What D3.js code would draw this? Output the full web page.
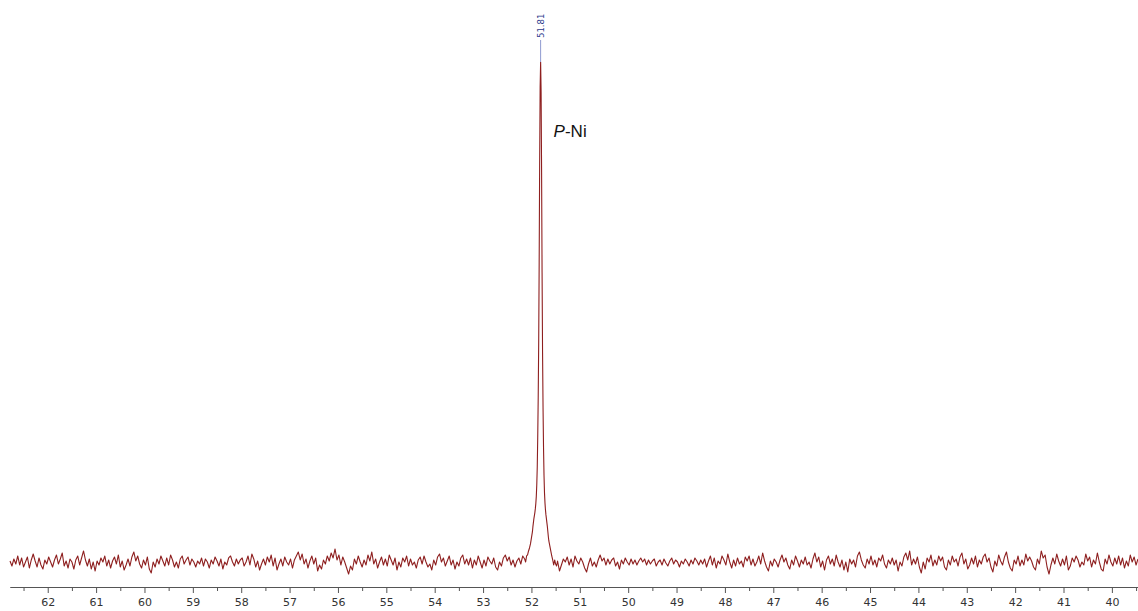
<!DOCTYPE html>
<html><head><meta charset="utf-8">
<script src="https://cdn.jsdelivr.net/npm/d3@7"></script>
<style>html,body{margin:0;background:#fff;overflow:hidden}</style>
</head><body><svg id="chart" width="1138" height="611"></svg>
<script>
// 31P NMR spectrum: baseline noise on a regular ppm grid, plus the resonance profile
const noiseStart = 62.78;
const noiseStep = 0.04;
const baselineNoise = [
  4,-6,8,-2,14,-4,10,-8,2,12,-10,6,18,4,-8,10,-4,-12,6,-2,12,2,-8,6,
  16,-2,8,20,-6,4,-10,8,2,-12,6,14,-4,10,24,6,-6,8,-12,2,-16,4,-4,10,
  2,14,-6,6,-10,4,12,-2,16,-8,4,-14,-4,8,-6,12,22,4,14,-2,-10,6,-4,12,
  -12,-20,2,-8,8,-2,14,4,-6,10,-4,16,6,-8,2,-10,8,14,-2,6,12,-4,8,2,
  -8,4,-2,10,-6,8,2,-10,6,-2,12,4,-6,8,-12,2,-4,10,14,2,-6,8,-2,6,
  10,-6,2,14,-4,18,8,-8,4,-14,-2,8,-4,12,2,16,-6,10,-14,-2,8,-6,12,2,
  -4,8,-10,6,14,22,6,18,-2,8,-10,4,14,-2,10,-16,-4,-12,6,-2,14,4,20,10,
  28,6,16,-4,12,2,-10,-22,-6,-14,8,-2,14,2,-8,6,-4,16,4,22,-2,8,-10,2,
  12,-4,8,-6,16,6,-4,10,-14,2,-8,10,2,14,-6,8,-4,2,-10,6,12,-2,14,2,
  -8,-2,-14,6,-4,12,18,2,10,-6,4,14,-4,6,-12,2,-6,10,16,-2,8,-4,10,-10,
  6,-4,14,2,-10,6,-6,12,4,-2,10,-8,-14,2,-6,10,16,4,12,-4,6,-8,4,10,
  -2,14,6,-10,2,-4,8,-2,16,24,6,14,-6,2,-10,8,-2,12,-6,4,-16,-4,8,2,
  12,-4,8,-8,14,4,-2,10,2,-10,-18,-2,10,-6,2,-8,6,16,4,10,-4,8,-2,6,
  10,-6,2,-12,6,-2,10,2,-4,8,-2,6,-4,4,10,2,8,-4,6,-2,4,8,-6,2,
  6,-4,8,0,-6,4,10,-2,6,2,-8,4,-2,8,2,-6,6,-2,10,4,-4,6,-2,8,
  -8,4,14,-4,10,-10,4,-2,14,6,-4,18,2,-10,6,-6,10,-2,4,-8,12,4,14,-4,
  8,-6,2,14,-2,20,4,-8,-16,4,-6,8,2,-8,6,16,2,10,-4,-12,6,-4,14,4,
  -8,6,-2,12,-4,2,-10,8,20,2,12,-8,4,-14,6,14,-2,8,-6,16,2,-8,6,-14,
  2,-18,8,-2,6,-8,14,22,6,-4,-10,8,-2,14,-4,6,-8,10,4,16,-2,-10,6,-2,
  10,-4,6,-16,2,-6,12,20,6,24,-4,8,-2,12,-8,-20,2,-12,10,2,16,-6,6,-4,
  14,4,12,-8,-14,6,-4,14,2,8,-6,12,20,-2,8,-12,-4,10,-2,14,-8,6,-2,12,
  18,2,10,-8,-18,4,-6,16,4,-4,12,22,2,-10,-16,6,-2,14,-6,6,-4,18,4,12,
  4,-8,-14,8,-2,24,10,16,-8,-22,-4,10,-2,18,4,-6,8,-4,14,-14,-6,10,2,14,
  6,-8,2,-4,18,4,12,-8,6,-2,20,2,-12,-16,8,-2,16,2,-6,10,-2,14,-4,10,
  -10,4,-6,16,2,12,-4,8
];

// resonance at 51.81 ppm
const peakPpm = [52.14,52.12,52.10,52.08,52.06,52.04,52.02,52.00,51.98,51.97,51.96,51.95,51.94,51.93,51.92,51.91,51.90,51.89,51.88,51.87,51.86,51.85,51.84,51.83,51.82,51.81,51.80,51.79,51.78,51.77,51.76,51.75,51.74,51.73,51.72,51.71,51.70,51.69,51.68,51.67,51.66,51.65,51.64,51.62,51.60,51.58,51.56,51.54,51.52,51.50,51.48];
const peakIntensity = [8,2,14,16,24,30,38,50,62,72,80,88,94,100,108,118,132,155,190,250,330,440,600,800,950,1000,940,780,580,420,310,230,175,140,120,106,96,88,80,72,62,52,44,34,24,14,6,-4,6,-2,-6];

const majorTicks = [62,61,60,59,58,57,56,55,54,53,52,51,50,49,48,47,46,45,44,43,42,41,40];
const minorTicks = [62.5,61.5,60.5,59.5,58.5,57.5,56.5,55.5,54.5,53.5,52.5,51.5,50.5,49.5,48.5,47.5,46.5,45.5,44.5,43.5,42.5,41.5,40.5,39.5];
const peakLabelPpm = [51.81];
const peakLabelText = ["51.81"];
const compoundItalic = "P";
const compoundRest = "-Ni";

const svg = d3.select("#chart");
const x = d3.scaleLinear().domain([62.78, 39.46]).range([10, 1138]);
const y = d3.scaleLinear().domain([0, 1000]).range([563, 62]);

// assemble the trace, ordered from high to low ppm
const peakLo = d3.min(peakPpm), peakHi = d3.max(peakPpm);
const trace = [];
baselineNoise.forEach((v, i) => {
  const ppm = noiseStart - i * noiseStep;
  if (ppm > peakHi || ppm < peakLo) trace.push([ppm, v]);
});
peakPpm.forEach((p, i) => trace.push([p, peakIntensity[i]]));
trace.sort((a, b) => b[0] - a[0]);

const line = d3.line().x(d => x(d[0])).y(d => y(d[1]));
svg.append("path").datum(trace)
  .attr("d", line)
  .attr("fill", "none")
  .attr("stroke", "#8e1f1f")
  .attr("stroke-width", 1.1)
  .attr("stroke-linejoin", "round");

// ppm axis
const axisY = 587;
const gMinor = svg.append("g").attr("transform", `translate(0,${axisY})`)
  .call(d3.axisBottom(x).tickValues(minorTicks).tickSize(4).tickSizeOuter(0).tickFormat(""));
const gMajor = svg.append("g").attr("transform", `translate(0,${axisY})`)
  .call(d3.axisBottom(x).tickValues(majorTicks).tickSize(6).tickSizeOuter(0).tickPadding(5).tickFormat(d3.format("d")));
[gMinor, gMajor].forEach(g => {
  g.select(".domain").attr("stroke", "#555");
  g.selectAll(".tick line").attr("stroke", "#555");
});
gMajor.selectAll(".tick text")
  .attr("fill", "#333")
  .style("font-family", "'DejaVu Sans', sans-serif")
  .style("font-size", "11px");

// peak pick label
peakLabelPpm.forEach((p, i) => {
  const px = x(p);
  const top = y(1000);
  svg.append("line")
    .attr("x1", px).attr("x2", px)
    .attr("y1", top - 22).attr("y2", top)
    .attr("stroke", "#8f9ad0").attr("stroke-width", 1);
  svg.append("text")
    .attr("transform", `translate(${px + 3},${top - 24}) rotate(-90)`)
    .attr("fill", "#2c3a8c")
    .style("font-family", "'DejaVu Sans', sans-serif")
    .style("font-size", "8.5px")
    .text(peakLabelText[i]);
});

// compound annotation
const ann = svg.append("text")
  .attr("x", x(51.81) + 13).attr("y", 137)
  .attr("fill", "#111")
  .style("font-family", "'Liberation Sans', Arial, sans-serif")
  .style("font-size", "17px");
ann.append("tspan").style("font-style", "italic").text(compoundItalic);
ann.append("tspan").text(compoundRest);
</script>
</body></html>
